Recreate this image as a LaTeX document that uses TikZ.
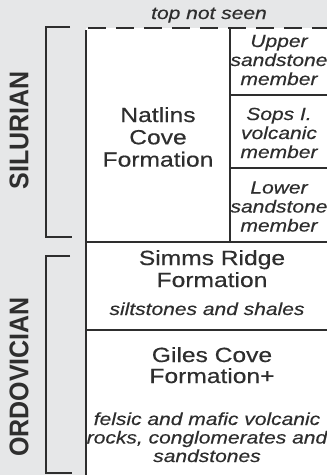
\documentclass[tikz,border=0pt]{standalone}
\usepackage{fontspec}
\setmainfont{Liberation Sans}
\newfontfamily\wsans[FakeStretch=1.2,FakeBold=0.4]{Liberation Sans}
\definecolor{bg}{HTML}{E6E7E8}
\definecolor{ink}{HTML}{2E2E2E}
\tikzset{
  rule/.style={draw=ink, line width=2.1pt},
  ttl/.style={font=\wsans\fontsize{20.5}{22}\selectfont, text=ink, anchor=base, inner sep=0pt},
  itl/.style={font=\wsans\itshape\fontsize{17.5}{19}\selectfont, text=ink, anchor=base, inner sep=0pt},
  lbl/.style={font=\bfseries\fontsize{25}{25}\selectfont, text=ink, rotate=90, inner sep=0pt}
}
\begin{document}
\begin{tikzpicture}[x=1pt, y=-1pt]
\fill[bg] (0,0) rectangle (327,475);
\useasboundingbox (0,0) rectangle (327,475);
\fill[white] (86,28) rectangle (327,475);

% column lines
\draw[ink, line width=2.1pt, dash pattern=on 18pt off 10pt] (88,28) -- (327,28);
\draw[rule] (86,30) -- (86,475);
\draw[rule] (230,28) -- (230,242);
\draw[rule] (230,95) -- (327,95);
\draw[rule] (230,168) -- (327,168);
\draw[rule] (86,242) -- (327,242);
\draw[rule] (86,330) -- (327,330);

% period brackets
\draw[rule] (70,27) -- (46,27) -- (46,237) -- (72,237);
\draw[rule] (70,256) -- (46,256) -- (46,473) -- (72,473);
\node[lbl] (sil) at (19,130) {\scalebox{1}[1.08]{SILURIAN}};
\node[lbl] (ord) at (19,377) {\scalebox{1}[1.08]{ORDOVICIAN}};

% top
\node[itl] (top) at (209,19) {top not seen};

% Natlins Cove
\node[ttl] (nat1) at (158,122) {Natlins};
\node[ttl] (nat2) at (158,144.3) {Cove};
\node[ttl] (nat3) at (158,166.6) {Formation};

% members
\node[itl] (up1) at (279,47) {Upper};
\node[itl] (up2) at (279,66) {sandstone};
\node[itl] (up3) at (279,85) {member};
\node[itl] (sp1) at (279,120) {Sops I.};
\node[itl] (sp2) at (279,139) {volcanic};
\node[itl] (sp3) at (279,158) {member};
\node[itl] (lw1) at (279,193.5) {Lower};
\node[itl] (lw2) at (279,212.5) {sandstone};
\node[itl] (lw3) at (279,231.5) {member};

% Simms Ridge
\node[ttl] (sim1) at (212,265) {Simms Ridge};
\node[ttl] (sim2) at (212,287) {Formation};
\node[itl] (sim3) at (207,315) {siltstones and shales};

% Giles Cove
\node[ttl] (gil1) at (212,362) {Giles Cove};
\node[ttl] (gil2) at (212,383) {Formation+};
\node[itl] (gil3) at (207,425) {felsic and mafic volcanic};
\node[itl] (gil4) at (207,443.5) {rocks, conglomerates and};
\node[itl] (gil5) at (207,462) {sandstones};
\end{tikzpicture}
\end{document}
